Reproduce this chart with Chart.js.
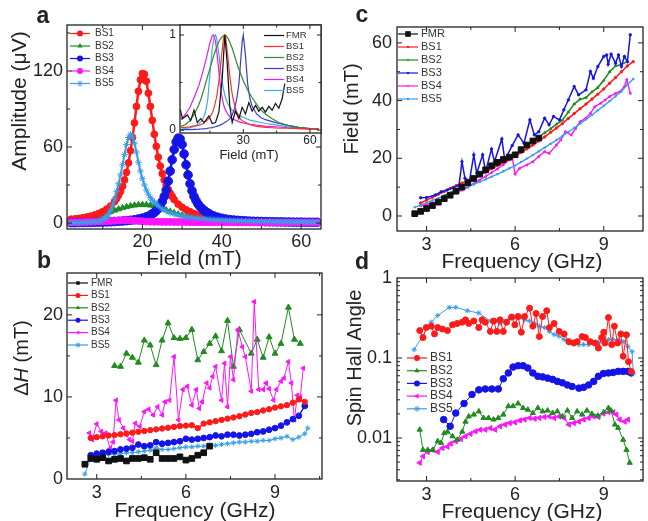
<!DOCTYPE html>
<html>
<head>
<meta charset="utf-8">
<title>Spin pumping spectra</title>
<script src="https://cdn.jsdelivr.net/npm/chart.js@4.4.1/dist/chart.umd.min.js"></script>
<style>
  body { margin: 0; background: #fff; }
  #wrap { position: relative; width: 648px; height: 521px; background: #fff; }
  #wrap canvas { position: absolute; left: 0; top: 0; }
</style>
</head>
<body>
<div id="wrap">
  <canvas id="panelA" width="648" height="521"></canvas>
  <canvas id="panelInset" width="648" height="521"></canvas>
  <canvas id="panelB" width="648" height="521"></canvas>
  <canvas id="panelC" width="648" height="521"></canvas>
  <canvas id="panelD" width="648" height="521"></canvas>
</div>
<script>
const W = 648, H = 521;
const FONT = "'Liberation Sans', Arial, Helvetica, sans-serif";
Chart.defaults.font.family = FONT;
Chart.defaults.color = '#222';

// colours
const colFMR = '#111111', colBS1 = '#ff1a1a', colBS2 = '#1e8c1e', colBS3 = '#1414e6', colBS4 = '#ff14ff', colBS5 = '#3a9de6';

// tick labels
const aXTicks = [20, 40, 60], aYTicks = [0, 60, 120];
const insetXTicks = [30, 60], insetYTicks = [0, 1];
const freqTicks = [3, 6, 9];
const bYTicks = [0, 10, 20], cYTicks = [0, 20, 40, 60], dYTicks = [0.01, 0.1, 1];

// ---- panel a: amplitude vs field ----
const aField = [2,3,4,5,6,7,8,9,10,11,12,13,14,15,16,17,18,19,20,21,22,23,24,25,26,27,28,29,30,31,32,33,34,35,36,37,38,39,40,41,42,43,44,45,46,47,48,49,50,51,52,53,54,55,56,57,58,59,60,61,62,63,64];
const aBS1F = [2,3,4,5,6,7,8,9,10,11,12,13,13.5,14,14.5,15,15.5,16,16.5,17,17.5,18,18.5,19,19.5,20,20.5,21,21.5,22,22.5,23,23.5,24,24.5,25,25.5,26,26.5,27,27.5,28,29,30,31,32,33,34,35,36,37,38,39,40,41,42,43,44,45,46,47,48,49,50,51,52,53,54,55,56,57,58,59,60,61,62,63,64];
const aBS1 = [3.0,3.3,3.7,4.2,4.8,5.5,6.4,7.6,9.0,11,13.5,17,19.3,22,25,29,34,40,47.5,57,67.5,79,92,104,113,118,117.5,112,102.5,92,81,70,60.5,52,45,39,34,30,26.5,23.5,21,18.5,15,12.5,10.5,9,7.5,6.3,5.3,4.5,3.9,3.4,3.0,2.7,2.4,2.2,2.0,1.9,1.8,1.7,1.6,1.5,1.4,1.3,1.3,1.2,1.2,1.1,1.1,1.0,1.0,1.0,0.9,0.9,0.9,0.8,0.8,0.8];
const aBS2 = [2.5,2.7,3.0,3.4,3.8,4.4,5.0,5.8,6.8,7.9,9.0,10.0,11.0,12.0,12.8,13.5,14.0,14.4,14.5,14.4,14.0,13.4,12.5,11.5,10.3,9.1,8.0,7.0,6.2,5.4,4.8,4.3,3.8,3.4,3.0,2.7,2.5,2.3,2.1,2.0,1.8,1.7,1.6,1.5,1.4,1.4,1.3,1.2,1.2,1.1,1.1,1.0,1.0,1.0,0.9,0.9,0.9,0.8,0.8,0.8,0.8,0.7,0.7];
const aBS3F = [2,3,4,5,6,7,8,9,10,11,12,13,14,15,16,17,18,19,20,21,22,22.5,23,23.5,24,24.5,25,25.5,26,26.5,27,27.5,28,28.5,29,29.5,30,30.5,31,31.5,32,32.5,33,33.5,34,34.5,35,35.5,36,36.5,37,38,39,40,41,42,43,44,45,46,47,48,49,50,51,52,53,54,55,56,57,58,59,60,61,62,63,64];
const aBS3 = [0.3,0.3,0.4,0.4,0.5,0.5,0.6,0.7,0.8,0.9,1.0,1.2,1.4,1.6,1.9,2.2,2.6,3.2,3.9,4.9,6.3,7.2,8.3,9.7,11.5,14,17,21,26,33,41,50,58,64,67,66.5,62,54.5,46,38,31,25.5,21,17.8,15,13,11.5,10,8.8,7.9,7.0,5.6,4.6,3.8,3.2,2.7,2.4,2.1,1.9,1.7,1.5,1.4,1.3,1.2,1.1,1.0,1.0,0.9,0.9,0.8,0.8,0.7,0.7,0.7,0.6,0.6,0.6,0.6];
const aBS4 = [0.6,0.7,0.7,0.8,0.9,1.0,1.1,1.2,1.3,1.4,1.6,1.8,2.0,2.2,2.3,2.2,1.9,1.6,1.4,1.2,1.1,1.0,1.0,0.9,0.9,0.9,0.8,0.8,0.8,0.8,0.7,0.7,0.7,0.7,0.7,0.6,0.6,0.6,0.6,0.6,0.6,0.6,0.5,0.5,0.5,0.5,0.5,0.5,0.5,0.5,0.5,0.5,0.5,0.4,0.4,0.4,0.4,0.4,0.4,0.4,0.4,0.4,0.4];
const aBS5F = [2,3,4,5,6,7,8,9,9.5,10,10.5,11,11.5,12,12.5,13,13.5,14,14.5,15,15.5,16,16.5,17,17.5,18,18.5,19,19.5,20,20.5,21,21.5,22,22.5,23,23.5,24,25,26,27,28,29,30,31,32,33,34,35,36,37,38,39,40,41,42,43,44,45,46,47,48,49,50,51,52,53,54,55,56,57,58,59,60,61,62,63,64];
const aBS5 = [0.2,0.3,0.3,0.4,0.5,0.7,1.0,1.6,2.1,2.8,3.7,5.0,7.0,10,14,19,25,31,38,46,54,62,67.5,70,68,63,56,48,41,35,30,26,22.8,20,18,16.5,15,13.5,11,9.3,8,7,6.2,5.5,5.0,4.5,4.1,3.8,3.5,3.2,2.9,2.7,2.5,2.3,2.2,2.0,1.9,1.8,1.7,1.6,1.5,1.4,1.4,1.3,1.2,1.2,1.1,1.1,1.0,1.0,0.9,0.9,0.9,0.8,0.8,0.8,0.7,0.7];

// ---- inset: normalised spectra ----
const iField = [2,4,6,8,10,11,12,13,14,15,16,16.5,17,17.5,18,19,20,21,21.5,22,23,24,25,26,27,28,29,29.5,30,31,32,33,34,36,38,40,43,46,50,55,60,64];
const iBS1 = [0.03,0.03,0.035,0.045,0.05,0.06,0.07,0.09,0.11,0.14,0.18,0.21,0.25,0.3,0.35,0.51,0.73,0.95,1.0,0.98,0.78,0.55,0.38,0.27,0.19,0.15,0.11,0.1,0.09,0.08,0.07,0.06,0.05,0.04,0.035,0.03,0.025,0.02,0.02,0.015,0.01,0.01];
const iBS2 = [0.04,0.06,0.1,0.17,0.27,0.33,0.41,0.49,0.57,0.65,0.73,0.77,0.8,0.84,0.87,0.93,0.97,0.99,1.0,1.0,0.97,0.92,0.86,0.79,0.71,0.64,0.58,0.55,0.52,0.47,0.42,0.38,0.34,0.27,0.21,0.17,0.12,0.08,0.05,0.03,0.015,0.01];
const iBS3 = [0.005,0.005,0.006,0.008,0.01,0.012,0.014,0.016,0.02,0.023,0.027,0.03,0.033,0.036,0.04,0.048,0.058,0.07,0.077,0.085,0.1,0.12,0.16,0.22,0.32,0.48,0.78,0.93,1.0,0.78,0.48,0.33,0.25,0.17,0.13,0.11,0.09,0.07,0.05,0.03,0.015,0.01];
const iBS4 = [0.11,0.17,0.24,0.35,0.47,0.55,0.63,0.72,0.82,0.92,0.99,1.0,0.98,0.93,0.84,0.62,0.4,0.28,0.24,0.21,0.17,0.14,0.12,0.11,0.1,0.09,0.08,0.08,0.075,0.07,0.065,0.06,0.058,0.052,0.048,0.043,0.038,0.033,0.025,0.018,0.012,0.01];
const iBS5 = [0.01,0.015,0.025,0.04,0.07,0.09,0.13,0.19,0.32,0.6,0.85,0.93,0.98,1.0,0.97,0.8,0.58,0.44,0.39,0.34,0.28,0.24,0.21,0.19,0.17,0.155,0.145,0.14,0.135,0.125,0.115,0.105,0.1,0.09,0.08,0.07,0.06,0.05,0.035,0.022,0.015,0.01];
const iFMRField = [1.6,2.6,4.8,6.3,7.8,9.3,10.8,12.3,14.5,16.0,17.5,19.0,20.5,21.7,22.7,23.9,25.0,26.5,28.0,29.5,31.0,32.5,34.0,35.5,37.0,38.5,40.0,41.5,43.0,44.5,46.0,47.5,48.7];
const iFMR = [0.22,0.12,0.16,0.10,0.21,0.08,0.12,0.08,0.15,0.07,0.08,0.19,0.54,1.0,0.72,0.26,0.08,0.2,0.12,0.24,0.17,0.29,0.2,0.26,0.2,0.24,0.19,0.25,0.21,0.28,0.23,0.33,0.49];

// ---- frequencies shared by b and c ----
const fFMR = [2.6,2.8,3.0,3.2,3.4,3.6,3.8,4.0,4.2,4.4,4.6,4.8,5.0,5.2,5.4,5.6,5.8,6.0,6.2,6.4,6.6,6.8];
const fStep = [2.8,3.0,3.2,3.4,3.6,3.8,4.0,4.2,4.4,4.6,4.8,5.0,5.2,5.4,5.6,5.8,6.0,6.2,6.4,6.6,6.8,7.0,7.2,7.4,7.6,7.8,8.0,8.2,8.4,8.6,8.8,9.0,9.2,9.4,9.6,9.8,10.0];

// ---- panel b: linewidth ----
const bFMR = [1.8,2.5,2.4,2.6,2.2,2.4,2.5,2.2,2.5,2.5,2.6,2.4,3.2,2.5,2.5,2.5,2.7,2.3,2.5,2.9,3.2,4.0];
const bBS1 = [5.0,5.1,5.2,5.3,5.35,5.45,5.55,5.65,5.75,5.85,5.95,6.05,6.15,6.25,6.35,6.45,6.5,6.55,6.2,6.75,6.9,7.05,7.2,7.35,7.5,7.65,7.85,8.05,8.15,8.35,8.5,8.7,8.85,9.0,9.3,9.7,9.4];
const bBS2F = [3.6,3.8,4.0,4.2,4.4,4.6,4.8,5.0,5.2,5.4,5.6,5.8,6.0,6.2,6.4,6.6,6.8,7.0,7.2,7.4,7.6,7.8,8.2,8.4,8.6,8.8,9.0,9.2,9.45,9.65,9.85];
const bBS2 = [13.8,13.7,15.3,14.8,14.2,16.9,16.3,13.9,16.9,19.0,17.2,17.1,17.2,18.2,14.5,15.5,16.5,17.4,15.6,19.3,13.7,18.2,15.3,17.0,14.8,17.3,15.3,16.5,20.9,17.0,16.5];
const bBS3 = [2.9,3.1,3.2,3.3,3.4,3.6,3.7,3.8,4.2,4.0,4.1,4.5,4.3,4.4,4.5,4.6,4.9,4.8,4.9,5.0,5.1,5.3,5.2,5.4,5.4,5.3,5.4,5.5,5.7,5.8,6.0,6.2,6.5,6.9,7.3,7.7,8.9];
const bBS4F = [2.75,2.85,3.0,3.15,3.3,3.45,3.55,3.65,3.75,3.9,4.0,4.1,4.2,4.3,4.45,4.6,4.75,4.9,5.05,5.2,5.3,5.45,5.6,5.75,5.9,6.05,6.2,6.35,6.45,6.55,6.7,6.8,6.9,7.0,7.2,7.3,7.4,7.5,7.6,7.75,7.9,8.0,8.2,8.3,8.45,8.6,8.7,8.8,8.95,9.05,9.2,9.3,9.45,9.55,9.65,9.75,9.85,9.95];
const bBS4 = [5.6,4.8,6.7,5.8,5.6,3.7,4.5,9.6,7.2,6.2,5.4,4.8,4.6,6.8,6.4,8.2,8.5,7.8,8.8,7.8,9.4,9.6,14.9,7.2,10.9,11.3,9.0,10.9,8.6,9.4,11.7,11.1,12.5,13.7,9.6,14.1,8.8,14.9,12.1,18.2,16.1,14.9,10.7,21.6,10.9,10.9,11.7,11.0,9.6,10.9,11.9,12.3,14.3,11.7,7.2,10.2,10.0,13.5];
const bBS5F = [2.6].concat(fStep, [10.1]);
const bBS5 = [0.6,2.6,2.8,2.9,3.0,3.0,3.1,3.2,3.2,3.3,3.4,3.5,3.8,3.6,3.6,3.7,3.8,3.9,3.9,4.0,4.0,4.1,4.1,4.2,4.3,4.4,4.5,4.5,4.6,4.6,4.7,4.7,4.9,5.0,5.2,4.8,5.1,5.5,6.2];

// ---- panel c: resonance field ----
const cFMR = [0.8,1.6,2.6,3.6,4.8,6.0,7.2,8.6,10.0,11.5,13.0,14.5,16.0,17.4,18.6,19.6,20.4,21.2,23.0,24.6,26.0,27.0];
const cBS1 = [4.5,5.5,6.5,7.5,8.5,9.5,10.5,11.4,12.4,13.4,14.4,15.4,16.4,17.5,18.5,19.6,20.7,22.0,23.3,24.6,26.0,27.4,29.0,30.5,32.0,33.8,35.5,37.2,38.8,40.5,42.2,44.0,46.0,48.0,50.0,52.0,53.5];
const cBS2F = fStep.slice(4, 36);
const cBS2 = [7.0,8.0,9.2,10.4,11.6,12.8,14.0,15.2,16.4,17.6,18.8,20.0,21.2,22.8,24.4,26.0,27.4,28.8,30.2,31.8,33.2,36.0,38.8,40.5,41.0,43.0,44.5,47.0,50.0,52.0,52.5,53.5];
const cBS3F = [2.8,3.0,3.3,3.5,3.7,3.9,4.1,4.2,4.3,4.45,4.6,4.7,4.9,5.0,5.2,5.3,5.55,5.65,5.9,6.1,6.3,6.5,6.65,6.8,7.0,7.15,7.3,7.5,7.65,7.8,8.0,8.15,8.4,8.55,8.65,8.8,9.0,9.1,9.15,9.25,9.4,9.5,9.6,9.7,9.8,9.9];
const cBS3 = [6.3,6.4,7.3,8.4,9.0,9.8,10.7,18.8,13.1,11.9,21.2,14.8,21.2,15.4,23.2,18.8,26.7,19.4,24.4,28.1,25.2,33.3,28.1,29.2,33.9,31.6,34.5,33.3,36.8,40.2,44.9,42.0,43.7,50.1,47.7,51.8,55.3,55.8,52.6,56.1,52.9,55.8,51.8,55.3,53.5,62.8];
const cBS4F = [2.8,3.0,3.2,3.4,3.6,3.8,4.0,4.2,4.4,4.6,4.8,5.0,5.2,5.4,5.6,5.8,5.9,6.0,6.15,6.4,6.6,6.8,7.0,7.15,7.4,7.55,7.7,7.9,8.05,8.2,8.4,8.55,8.7,8.9,9.05,9.2,9.4,9.55,9.7,9.78,9.9];
const cBS4 = [3.5,4.0,4.5,5.2,6.0,7.0,8.0,9.0,10.0,11.2,12.5,13.7,15.0,16.3,17.8,19.5,20.5,14.5,16.5,17.7,18.8,20.6,22.3,21.7,24.6,26.4,29.2,28.1,30.4,32.7,33.9,35.6,37.9,39.1,40.2,41.4,42.5,43.1,44.9,47.2,42.5];
const cBS5F = [2.6].concat(fStep);
const cBS5 = [3.0,3.8,4.6,5.4,6.2,7.0,7.8,8.6,9.4,10.2,11.0,11.8,12.7,13.6,14.5,15.5,16.5,17.5,18.7,19.9,21.1,22.4,23.7,25.0,26.3,27.7,29.1,30.5,32.0,33.5,35.0,36.6,38.2,39.8,41.5,43.2,45.5,47.5];

// ---- panel d: spin Hall angle ----
const dBS1F = [2.77,2.88,2.99,3.16,3.27,3.38,3.54,3.71,3.88,4.04,4.21,4.32,4.43,4.6,4.77,4.88,4.99,5.16,5.27,5.38,5.49,5.6,5.71,5.88,5.99,6.1,6.21,6.32,6.49,6.6,6.71,6.82,6.93,7.07,7.16,7.32,7.49,7.66,7.82,7.99,8.1,8.27,8.38,8.54,8.71,8.82,8.93,9.0,9.04,9.16,9.27,9.36,9.47,9.58,9.66,9.77,9.84,9.93];
const dBS1 = [0.22,0.18,0.24,0.25,0.20,0.24,0.23,0.22,0.26,0.27,0.28,0.30,0.27,0.29,0.24,0.30,0.28,0.215,0.29,0.215,0.30,0.215,0.28,0.325,0.26,0.33,0.21,0.33,0.42,0.25,0.36,0.185,0.33,0.39,0.24,0.27,0.215,0.20,0.16,0.154,0.16,0.185,0.18,0.16,0.154,0.133,0.18,0.21,0.154,0.32,0.147,0.25,0.154,0.20,0.105,0.195,0.09,0.068];
const dBS2F = [2.77,2.88,3.04,3.21,3.38,3.49,3.6,3.71,3.88,4.04,4.21,4.32,4.43,4.6,4.77,4.93,5.1,5.27,5.43,5.6,5.77,5.93,6.1,6.27,6.43,6.6,6.77,6.93,7.1,7.27,7.43,7.6,7.77,7.93,8.1,8.27,8.43,8.6,8.8,9.0,9.16,9.25,9.38,9.49,9.66,9.77,9.88];
const dBS2 = [0.0127,0.0071,0.0071,0.0071,0.0091,0.0087,0.0115,0.012,0.0105,0.0095,0.012,0.016,0.0186,0.0196,0.0215,0.0178,0.0178,0.017,0.0178,0.0196,0.025,0.025,0.027,0.0237,0.0226,0.0205,0.0237,0.0215,0.022,0.0205,0.0215,0.0186,0.022,0.0178,0.0215,0.0196,0.022,0.020,0.019,0.021,0.0237,0.022,0.0147,0.0134,0.0095,0.0071,0.0049];
const dBS3F = [3.58,3.8,3.99,4.27,4.54,4.77,4.99,5.21,5.43,5.6,5.77,5.93,6.1,6.27,6.43,6.6,6.77,6.93,7.1,7.27,7.43,7.6,7.77,7.93,8.16,8.32,8.49,8.66,8.82,8.99,9.16,9.32,9.49,9.66,9.82,9.93];
const dBS3 = [0.017,0.014,0.0205,0.027,0.035,0.040,0.041,0.041,0.041,0.055,0.065,0.077,0.08,0.08,0.075,0.065,0.059,0.058,0.056,0.054,0.051,0.049,0.046,0.044,0.042,0.043,0.046,0.051,0.059,0.064,0.065,0.066,0.068,0.068,0.068,0.065];
const dBS4F = [2.77,2.88,3.04,3.21,3.38,3.54,3.71,3.82,3.99,4.16,4.32,4.49,4.66,4.82,4.99,5.16,5.32,5.49,5.66,5.82,5.99,6.16,6.32,6.49,6.66,6.82,6.99,7.16,7.32,7.49,7.66,7.82,7.99,8.16,8.32,8.49,8.66,8.82,8.99,9.16,9.32,9.43,9.54,9.71,9.82];
const dBS4 = [0.0049,0.0059,0.0067,0.0071,0.0067,0.0075,0.0078,0.0085,0.0091,0.0097,0.0105,0.0113,0.0121,0.0127,0.0127,0.0133,0.0127,0.014,0.0147,0.0154,0.0157,0.0166,0.017,0.0178,0.0174,0.0178,0.0183,0.0186,0.0178,0.0186,0.0178,0.0147,0.0154,0.016,0.017,0.0178,0.0186,0.0183,0.0202,0.021,0.021,0.0196,0.017,0.016,0.017];
const dBS5F = [2.58,3.16,3.38,3.77,3.99,4.38,4.77,5.16,5.32,5.49,5.66,5.82,5.99,6.16,6.32,6.49,6.66,6.82,6.99,7.16,7.32,7.49,7.66,7.82,7.99,8.16,8.32,8.49,8.66,8.82,8.99,9.16,9.32,9.49,9.66,9.82,9.96,10.0];
const dBS5 = [0.127,0.28,0.34,0.43,0.43,0.39,0.365,0.29,0.29,0.27,0.29,0.31,0.32,0.32,0.30,0.29,0.27,0.25,0.24,0.215,0.196,0.187,0.17,0.154,0.15,0.147,0.147,0.147,0.15,0.157,0.16,0.17,0.17,0.17,0.16,0.14,0.12,0.064];


function pts(xs, ys) {
    return xs.map(function (x, i) { return { x: x, y: ys[i] }; });
}

function series(label, xs, ys, color, style, radius, extra) {
    return Object.assign({
        label: label,
        data: pts(xs, ys),
        borderColor: color,
        backgroundColor: color,
        pointBackgroundColor: color,
        pointBorderColor: color,
        pointStyle: style,
        pointRadius: radius,
        pointBorderWidth: 1,
        borderWidth: 1,
        tension: 0,
        fill: false
    }, extra || {});
}

// marker for the hand drawn legends
function drawMarker(ctx, style, x, y, r, color, rot) {
    ctx.save();
    ctx.translate(x, y);
    ctx.rotate((rot || 0) * Math.PI / 180);
    ctx.fillStyle = color;
    ctx.strokeStyle = color;
    ctx.lineWidth = 1;
    ctx.beginPath();
    if (style === 'rect') {
        const s = r * Math.SQRT1_2;
        ctx.rect(-s, -s, 2 * s, 2 * s);
        ctx.fill();
    } else if (style === 'triangle') {
        ctx.moveTo(0, -r);
        ctx.lineTo(r * 0.87, r * 0.5);
        ctx.lineTo(-r * 0.87, r * 0.5);
        ctx.closePath();
        ctx.fill();
    } else if (style === 'star') {
        for (let k = 0; k < 4; k++) {
            const ang = k * Math.PI / 4;
            ctx.moveTo(Math.cos(ang) * r, Math.sin(ang) * r);
            ctx.lineTo(-Math.cos(ang) * r, -Math.sin(ang) * r);
        }
        ctx.stroke();
    } else if (style) {
        ctx.arc(0, 0, r, 0, 2 * Math.PI);
        ctx.fill();
    }
    ctx.restore();
}

// text made of parts (for the italic H), optionally rotated
function drawText(ctx, spec, bold) {
    const parts = typeof spec.text === 'string' ? [{ t: spec.text }] : spec.text;
    const fontOf = function (p) {
        return (p.italic ? 'italic ' : '') + (bold ? 'bold ' : '') + spec.size + 'px ' + FONT;
    };
    ctx.save();
    ctx.translate(spec.x, spec.y);
    if (spec.rotate) ctx.rotate(-Math.PI / 2);
    ctx.textBaseline = 'middle';
    ctx.textAlign = 'left';
    ctx.fillStyle = '#222';
    let total = 0;
    parts.forEach(function (p) { ctx.font = fontOf(p); total += ctx.measureText(p.t).width; });
    let cx = -total / 2;
    parts.forEach(function (p) {
        ctx.font = fontOf(p);
        ctx.fillText(p.t, cx, 0);
        cx += ctx.measureText(p.t).width;
    });
    ctx.restore();
}

// box frame, inward ticks, legend, titles and panel letter
const decoPlugin = {
    id: 'deco',
    beforeDraw: function (chart, args, o) {
        if (o.fill) {
            const a = chart.chartArea;
            chart.ctx.fillStyle = o.fill;
            chart.ctx.fillRect(a.left, a.top, a.right - a.left, a.bottom - a.top);
        }
    },
    afterDraw: function (chart, args, o) {
        const ctx = chart.ctx, a = chart.chartArea;
        const sx = chart.scales.x, sy = chart.scales.y;
        const tl = o.tick || 5;
        ctx.save();
        ctx.strokeStyle = '#222';
        ctx.lineWidth = 1.3;
        ctx.strokeRect(a.left, a.top, a.right - a.left, a.bottom - a.top);
        ctx.lineWidth = 1;
        function marks(scale, vals, len, horiz) {
            vals.forEach(function (v) {
                const p = scale.getPixelForValue(v);
                ctx.beginPath();
                if (horiz) {
                    if (p < a.left + 1 || p > a.right - 1) return;
                    ctx.moveTo(p, a.bottom); ctx.lineTo(p, a.bottom - len);
                    ctx.moveTo(p, a.top); ctx.lineTo(p, a.top + len);
                } else {
                    if (p < a.top + 1 || p > a.bottom - 1) return;
                    ctx.moveTo(a.left, p); ctx.lineTo(a.left + len, p);
                    ctx.moveTo(a.right, p); ctx.lineTo(a.right - len, p);
                }
                ctx.stroke();
            });
        }
        marks(sx, sx.ticks.map(function (t) { return t.value; }), tl, true);
        marks(sx, o.xMinor || [], tl * 0.6, true);
        marks(sy, sy.ticks.map(function (t) { return t.value; }), tl, false);
        marks(sy, o.yMinor || [], tl * 0.6, false);

        if (o.legend) {
            const L = o.legend;
            chart.data.datasets.forEach(function (ds, i) {
                const y = L.y + i * L.dy;
                ctx.strokeStyle = ds.borderColor;
                ctx.lineWidth = 1.2;
                ctx.beginPath();
                ctx.moveTo(L.x, y);
                ctx.lineTo(L.x + L.len, y);
                ctx.stroke();
                const r = L.r !== undefined ? L.r : ds.pointRadius;
                if (r > 0) drawMarker(ctx, ds.pointStyle, L.x + L.len / 2, y, r, ds.borderColor, ds.pointRotation);
                ctx.fillStyle = '#333';
                ctx.font = L.size + 'px ' + FONT;
                ctx.textAlign = 'left';
                ctx.textBaseline = 'middle';
                ctx.fillText(ds.label, L.x + L.len + L.gap, y);
            });
        }
        if (o.xTitle) drawText(ctx, o.xTitle, false);
        if (o.yTitle) drawText(ctx, Object.assign({ rotate: true }, o.yTitle), false);
        if (o.letter) drawText(ctx, o.letter, true);
        ctx.restore();
    }
};

function axis(o, isX, size) {
    return {
        type: o.type || 'linear',
        min: o.min,
        max: o.max,
        position: isX ? 'bottom' : 'left',
        grid: { display: false, drawTicks: false },
        border: { display: false },
        ticks: {
            autoSkip: false,
            maxRotation: 0,
            padding: o.pad,
            color: '#222',
            font: { size: o.size },
            callback: function (v) { return String(v); }
        },
        afterBuildTicks: function (s) { s.ticks = o.ticks.map(function (v) { return { value: v }; }); },
        afterFit: function (s) { if (isX) s.height = size; else s.width = size; }
    };
}

// frame = [left, top, right, bottom] of the plot box on the page
function panel(id, frame, xo, yo, datasets, deco) {
    const l = frame[0], t = frame[1], r = frame[2], b = frame[3];
    return new Chart(document.getElementById(id), {
        type: 'line',
        data: { datasets: datasets },
        options: {
            responsive: false,
            animation: false,
            devicePixelRatio: 1,
            events: [],
            layout: { padding: { left: 0, top: t, right: W - r, bottom: H - b - 30 } },
            plugins: { legend: { display: false }, tooltip: { enabled: false }, deco: deco },
            scales: { x: axis(xo, true, 30), y: axis(yo, false, l) }
        },
        plugins: [decoPlugin]
    });
}

// panel a
panel('panelA', [67, 25, 321, 229],
    { min: 1, max: 65, ticks: aXTicks, size: 18, pad: 2 },
    { min: -4.7, max: 156.3, ticks: aYTicks, size: 18, pad: 4 },
    [
        series('BS1', aBS1F, aBS1, colBS1, 'circle', 3.4, { order: 3, borderWidth: 2.5 }),
        series('BS2', aField, aBS2, colBS2, 'triangle', 3.5, { order: 4, borderWidth: 2.5 }),
        series('BS3', aBS3F, aBS3, colBS3, 'circle', 4.3, { order: 2, borderWidth: 2.5 }),
        series('BS4', aField, aBS4, colBS4, 'circle', 3.5, { order: 1, borderWidth: 2.5 }),
        series('BS5', aBS5F, aBS5, colBS5, 'star', 3.3, { order: 0, borderWidth: 2 })
    ],
    {
        xMinor: [10, 30, 50], yMinor: [30, 90, 150],
        legend: { x: 70, y: 33.5, dy: 12.5, len: 20, gap: 5, size: 10, r: 3 },
        xTitle: { text: 'Field (mT)', x: 194, y: 259, size: 21 },
        yTitle: { text: 'Amplitude (\u03bcV)', x: 20, y: 101, size: 21 },
        letter: { text: 'a', x: 43, y: 17, size: 23 }
    });

// inset of panel a
panel('panelInset', [180, 25, 321, 133],
    { min: 1.5, max: 65, ticks: insetXTicks, size: 12, pad: 0 },
    { min: -0.03, max: 1.105, ticks: insetYTicks, size: 12, pad: 4 },
    [
        series('FMR', iFMRField, iFMR, colFMR, false, 0, { borderWidth: 1.2, order: 0 }),
        series('BS1', iField, iBS1, '#ff3030', false, 0, { borderWidth: 1.2 }),
        series('BS2', iField, iBS2, '#2e8b2e', false, 0, { borderWidth: 1.2 }),
        series('BS3', iField, iBS3, '#3a3ad0', false, 0, { borderWidth: 1.2 }),
        series('BS4', iField, iBS4, '#e020e0', false, 0, { borderWidth: 1.2 }),
        series('BS5', iField, iBS5, '#40a8ea', false, 0, { borderWidth: 1.2 })
    ],
    {
        fill: '#ffffff', tick: 4,
        xMinor: [15, 45], yMinor: [0.5],
        legend: { x: 264, y: 35.5, dy: 11, len: 20, gap: 2, size: 9.5, r: 0 },
        xTitle: { text: 'Field (mT)', x: 249, y: 155, size: 13 }
    });

// panel b
panel('panelB', [67, 273, 322, 479],
    { min: 2, max: 10.58, ticks: freqTicks, size: 18, pad: 3 },
    { min: 0, max: 25.1, ticks: bYTicks, size: 18, pad: 4 },
    [
        series('FMR', fFMR, bFMR, colFMR, 'rect', 4, { order: 0 }),
        series('BS1', fStep, bBS1, colBS1, 'circle', 2.7, { order: 1, borderWidth: 1.5 }),
        series('BS2', bBS2F, bBS2, colBS2, 'triangle', 3.4, { order: 5 }),
        series('BS3', fStep, bBS3, colBS3, 'circle', 2.9, { order: 2, borderWidth: 1.5 }),
        series('BS4', bBS4F, bBS4, colBS4, 'triangle', 2.6, { order: 4, pointRotation: -90 }),
        series('BS5', bBS5F, bBS5, colBS5, 'star', 2.6, { order: 3 })
    ],
    {
        xMinor: [4.5, 7.5, 10.5], yMinor: [5, 15, 25],
        legend: { x: 68, y: 283, dy: 12.4, len: 20, gap: 3, size: 10, r: 2.5 },
        xTitle: { text: 'Frequency (GHz)', x: 195, y: 511, size: 21 },
        yTitle: { text: [{ t: '\u0394' }, { t: 'H', italic: true }, { t: ' (mT)' }], x: 22, y: 358, size: 20 },
        letter: { text: 'b', x: 44, y: 262, size: 23 }
    });

// panel c
panel('panelC', [397, 27, 647, 231],
    { min: 2, max: 10.33, ticks: freqTicks, size: 18, pad: 3 },
    { min: -5.2, max: 65.5, ticks: cYTicks, size: 18, pad: 5 },
    [
        series('FMR', fFMR, cFMR, colFMR, 'rect', 4, { order: 0 }),
        series('BS1', fStep, cBS1, colBS1, 'circle', 1.2, { order: 2, borderWidth: 1.6 }),
        series('BS2', cBS2F, cBS2, colBS2, 'triangle', 1.4, { order: 3, borderWidth: 1.6 }),
        series('BS3', cBS3F, cBS3, colBS3, 'circle', 1.2, { order: 1, borderWidth: 1.5 }),
        series('BS4', cBS4F, cBS4, colBS4, 'triangle', 1.4, { order: 5, borderWidth: 1.4, pointRotation: -90 }),
        series('BS5', cBS5F, cBS5, colBS5, 'star', 1.2, { order: 4, borderWidth: 1.4 })
    ],
    {
        xMinor: [4.5, 7.5], yMinor: [10, 30, 50],
        legend: { x: 398, y: 34, dy: 13, len: 20, gap: 3, size: 11 },
        xTitle: { text: 'Frequency (GHz)', x: 522, y: 262, size: 21 },
        yTitle: { text: 'Field (mT)', x: 352, y: 109, size: 20 },
        letter: { text: 'c', x: 362, y: 16, size: 23 }
    });

// panel d
panel('panelD', [397, 278, 647, 481],
    { min: 2, max: 10.33, ticks: freqTicks, size: 18, pad: 3 },
    { type: 'logarithmic', min: 0.0029, max: 1, ticks: dYTicks, size: 18, pad: 5 },
    [
        series('BS1', dBS1F, dBS1, colBS1, 'circle', 3, { order: 0 }),
        series('BS2', dBS2F, dBS2, colBS2, 'triangle', 3, { order: 3 }),
        series('BS3', dBS3F, dBS3, colBS3, 'circle', 3.3, { order: 2 }),
        series('BS4', dBS4F, dBS4, colBS4, 'triangle', 3, { order: 4, pointRotation: -90 }),
        series('BS5', dBS5F, dBS5, colBS5, 'star', 2.6, { order: 1 })
    ],
    {
        xMinor: [4.5, 7.5],
        yMinor: [0.003, 0.004, 0.005, 0.006, 0.007, 0.008, 0.009, 0.02, 0.03, 0.04, 0.05, 0.06, 0.07, 0.08, 0.09, 0.2, 0.3, 0.4, 0.5, 0.6, 0.7, 0.8, 0.9],
        tick: 5,
        legend: { x: 407, y: 358, dy: 12.7, len: 20, gap: 3, size: 12, r: 3 },
        xTitle: { text: 'Frequency (GHz)', x: 522, y: 512, size: 21 },
        yTitle: { text: 'Spin Hall Angle', x: 355, y: 358, size: 20 },
        letter: { text: 'd', x: 362, y: 263, size: 23 }
    });
</script>
</body>
</html>
